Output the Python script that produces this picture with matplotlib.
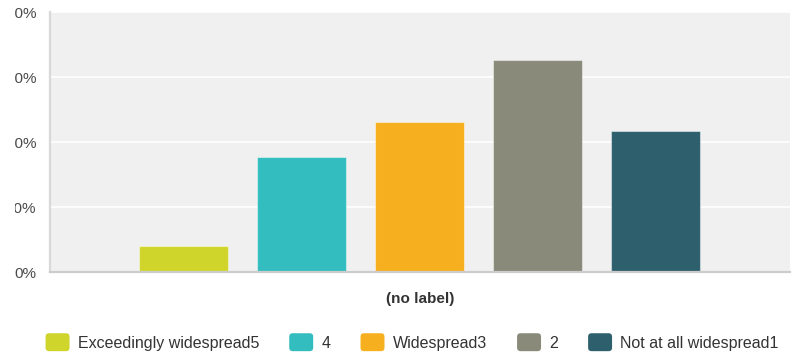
import matplotlib.pyplot as plt
import matplotlib.patches as mpatches
from matplotlib.legend_handler import HandlerPatch
from matplotlib.transforms import Bbox, TransformedBbox

# Data
categories = ["Exceedingly widespread5", "4", "Widespread3", "2", "Not at all widespread1"]
values = [4.1, 17.7, 23.1, 32.7, 21.8]
colors = ["#cfd52a", "#33bdbf", "#f6af1f", "#898a7a", "#2e5f6c"]
y_ticks = [0, 10, 20, 30, 40]
y_tick_labels = ["0%", "10%", "20%", "30%", "40%"]
x_label = "(no label)"

plt.rcParams["font.family"] = ["Liberation Sans", "DejaVu Sans"]

W, H = 798, 361
fig = plt.figure(figsize=(W / 100, H / 100), dpi=100)
ax = fig.add_axes([50 / W, (H - 272.3) / H, 740 / W, 260 / H])

ax.set_facecolor("#f0f0f0")
positions = range(len(values))
ax.bar(positions, values, width=0.754, color=colors,
       edgecolor=(1, 1, 1, 0.45), linewidth=0.8, zorder=3)

ax.set_xlim(-1.131, 5.136)
ax.set_ylim(0, 40)
ax.set_yticks(y_ticks)
ax.set_yticklabels(y_tick_labels)
ax.set_xticks([])
ax.grid(axis="y", color="white", linewidth=1.2, zorder=1)
ax.set_axisbelow(True)

for side in ["top", "right"]:
    ax.spines[side].set_visible(False)
ax.spines["left"].set_color("#d8d8d8")
ax.spines["left"].set_linewidth(1.6)
ax.spines["bottom"].set_color("#cccccc")
ax.spines["bottom"].set_linewidth(1.6)
ax.spines["bottom"].set_zorder(4)

ax.tick_params(axis="y", length=0, pad=9.5, labelsize=11, labelcolor="#4a4a4a")

# the reference cuts off the left part of the y tick labels
clip = TransformedBbox(Bbox([[14.5 / W, 0], [1, 1]]), fig.transFigure)
for lbl in ax.get_yticklabels():
    lbl.set_clip_box(clip)
    lbl.set_clip_on(True)

ax.set_xlabel(x_label, fontsize=11, fontweight="bold", color="#333333", labelpad=14)


# rounded legend swatches
def rounded_swatch(legend, orig_handle, xdescent, ydescent, width, height, fontsize):
    return mpatches.FancyBboxPatch((-xdescent, -ydescent - 1.5), width, height + 3,
                                   boxstyle="round,pad=0,rounding_size=2.5")


handles = [mpatches.Patch(facecolor=c, edgecolor="none") for c in colors]
fig.legend(handles, categories, loc="center", bbox_to_anchor=(412 / W, 1 - 343 / H),
           ncol=5, frameon=False, fontsize=11.5, handlelength=1.5, handleheight=0.95,
           handletextpad=0.5, columnspacing=1.9, labelcolor="#333333",
           handler_map={mpatches.Patch: HandlerPatch(patch_func=rounded_swatch)})

fig.savefig("out.png", dpi=100)
